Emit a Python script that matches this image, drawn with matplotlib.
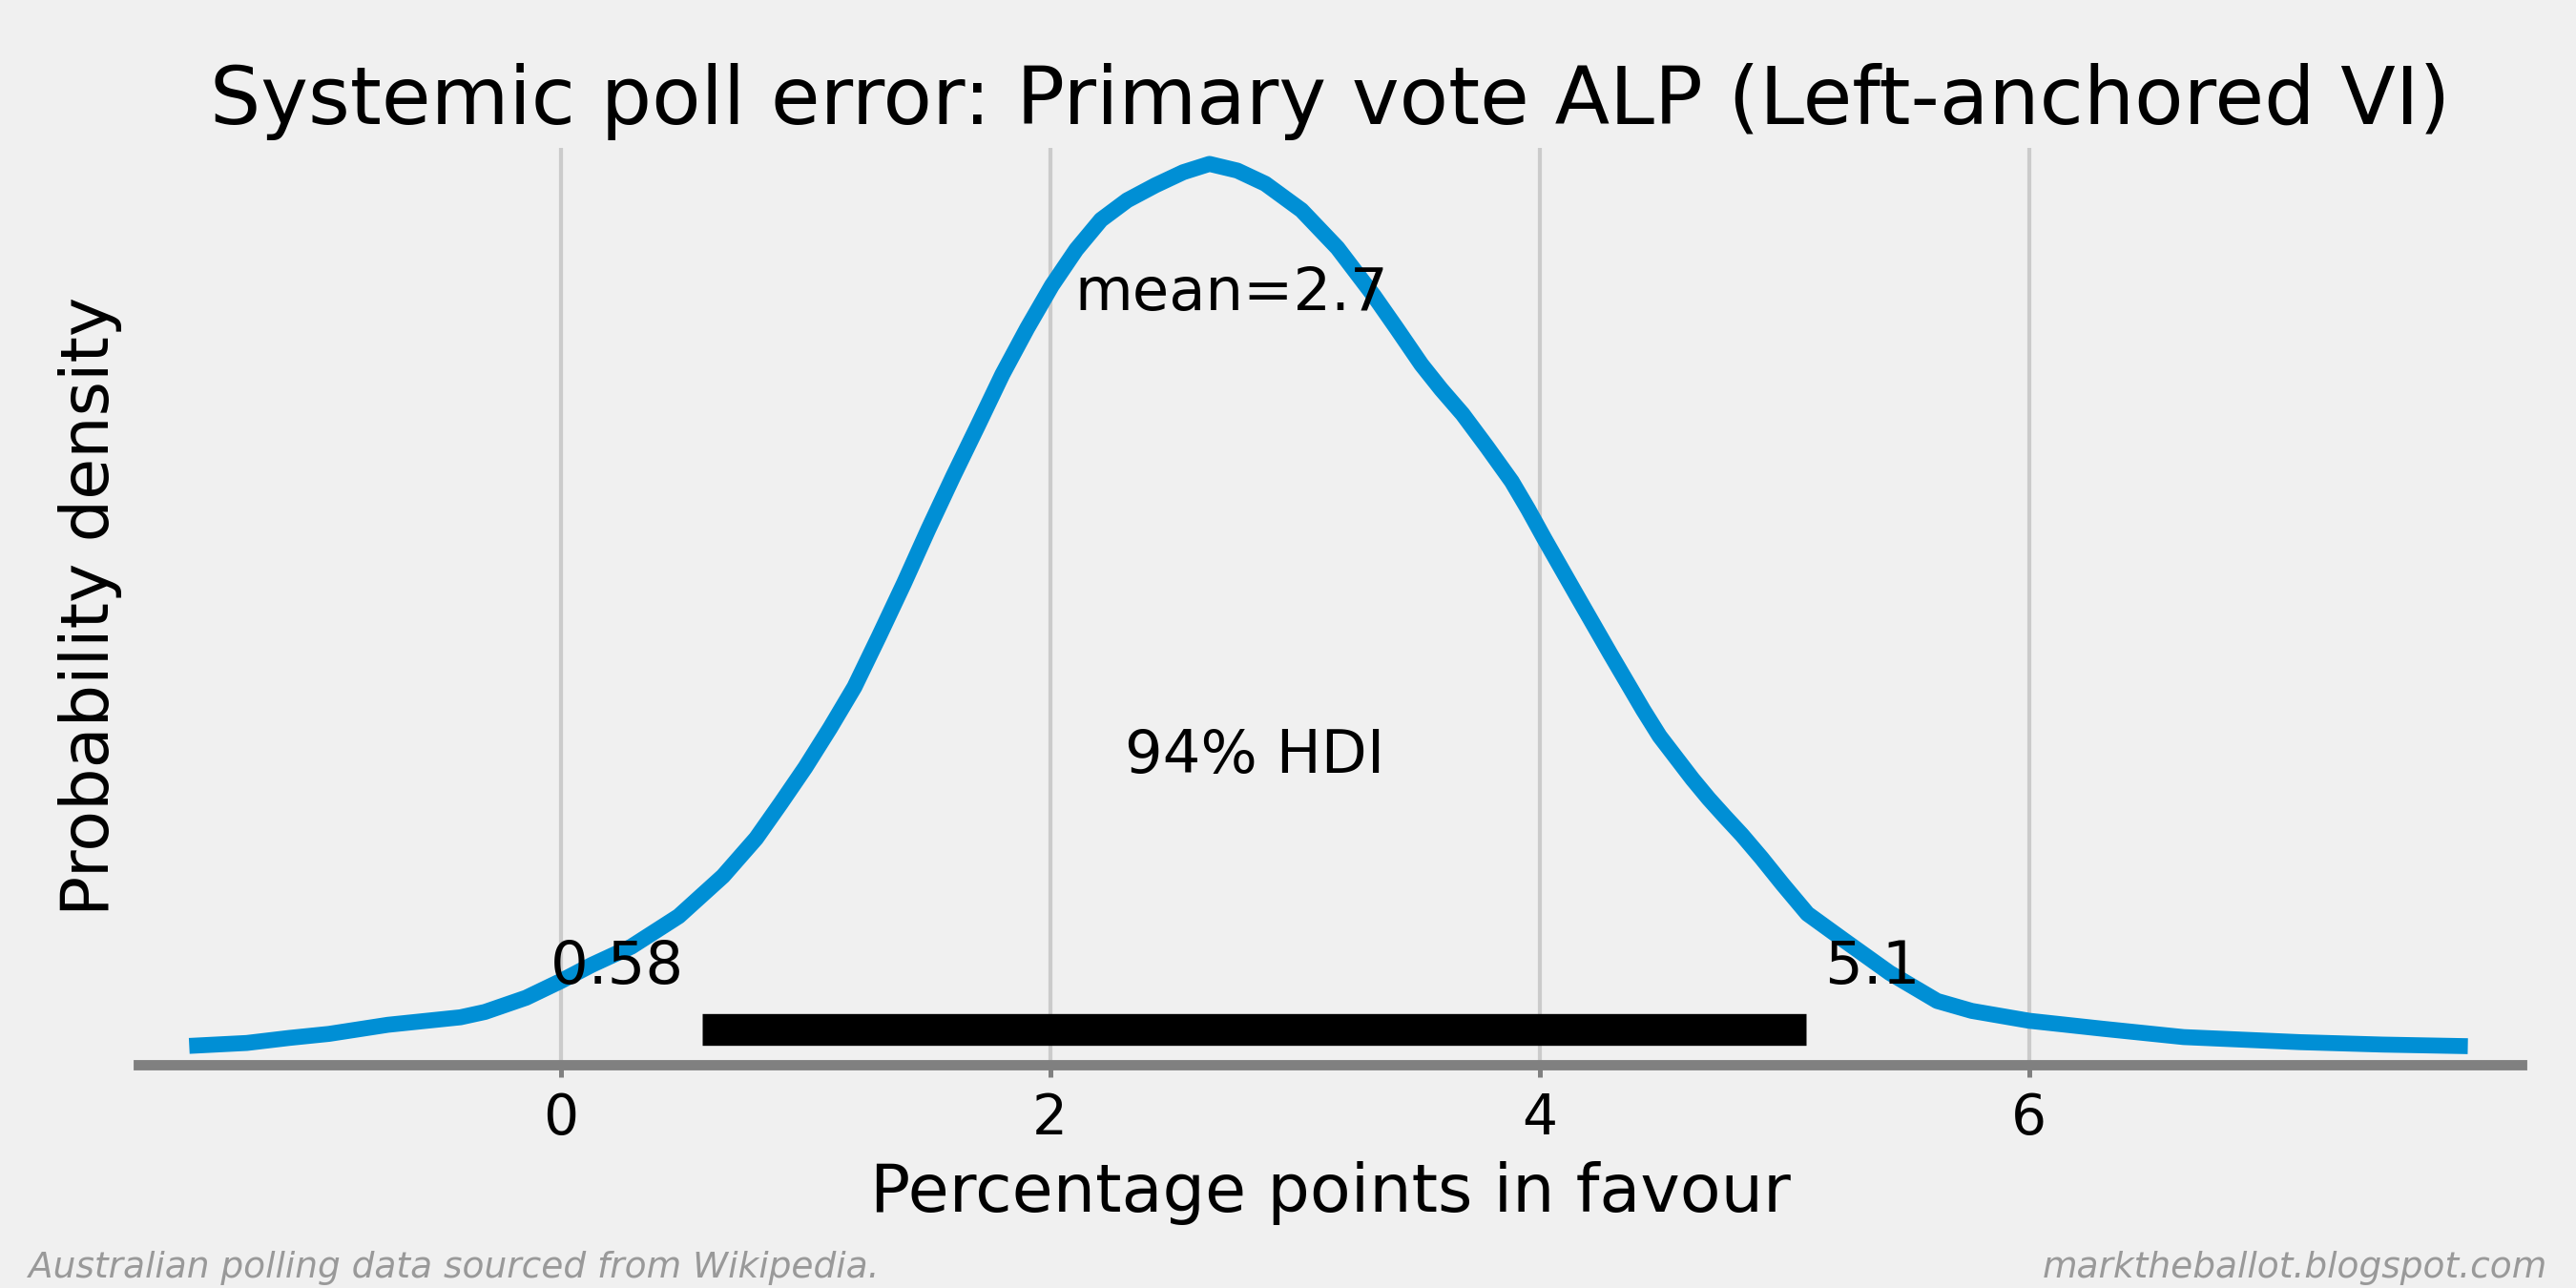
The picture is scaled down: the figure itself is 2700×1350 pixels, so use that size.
import matplotlib
matplotlib.use('Agg')
from matplotlib import pyplot as plt
import numpy as np

# posterior density of the systemic poll error
x_points = [-1.517, -1.282, -1.107, -0.946, -0.705, -0.409, -0.309, -0.141,
            0.0, 0.128, 0.289, 0.483, 0.664, 0.799, 0.899, 1.0, 1.101,
            1.201, 1.302, 1.403, 1.503, 1.604, 1.705, 1.805, 1.906, 2.007,
            2.107, 2.208, 2.315, 2.43, 2.544, 2.651, 2.765, 2.879, 3.027,
            3.174, 3.322, 3.416, 3.517, 3.597, 3.685, 3.785, 3.886, 3.953,
            4.02, 4.154, 4.289, 4.423, 4.49, 4.557, 4.624, 4.691, 4.758,
            4.826, 4.906, 4.993, 5.094, 5.242, 5.43, 5.624, 5.765, 6.0,
            6.302, 6.631, 7.107, 7.443, 7.792]
density = [0.0004, 0.0015, 0.0034, 0.0049, 0.0083, 0.0111, 0.0131, 0.0184,
           0.0246, 0.0307, 0.0375, 0.0489, 0.0639, 0.078, 0.091, 0.1045,
           0.1192, 0.1346, 0.1537, 0.1733, 0.1936, 0.2133, 0.2323, 0.2514,
           0.2686, 0.2846, 0.2981, 0.3092, 0.3165, 0.3221, 0.327, 0.3301,
           0.3276, 0.3227, 0.3128, 0.2987, 0.2809, 0.2686, 0.2551, 0.2459,
           0.2366, 0.2243, 0.2114, 0.201, 0.1899, 0.1684, 0.1469, 0.126,
           0.1162, 0.1082, 0.1002, 0.0928, 0.086, 0.0793, 0.0707, 0.0608,
           0.0498, 0.04, 0.0277, 0.0172, 0.0135, 0.0098, 0.0068, 0.0037,
           0.0018, 0.0009, 0.0003]
mean_value = 2.74
hdi_low, hdi_high = 0.58, 5.09
hdi_prob = 94
xticks = [0, 2, 4, 6]

plt.style.use('fivethirtyeight')

fig = plt.figure(figsize=(9, 4.5), dpi=300)
ax = fig.add_axes([0.0537, 0.173, 0.9253, 0.712])

ax.plot(x_points, density, color='#008fd5', lw=4, solid_capstyle='butt',
        solid_joinstyle='round')

ax.set_xlim(-1.725, 8.013)
top = 0.336
ax.set_ylim(-0.0068, top)

# HDI bar and labels (arviz-style)
ax.plot([hdi_low, hdi_high], [top * 0.02, top * 0.02], color='k', lw=8,
        solid_capstyle='butt')
ax.text(hdi_low, top * 0.07, '%.2g' % hdi_low + ' ' * 9, size=15, ha='center')
ax.text(hdi_high, top * 0.07, ' ' * 7 + '%.2g' % hdi_high, size=15,
        ha='center')
ax.text((hdi_low + hdi_high) / 2, top * 0.305, '%d%% HDI' % hdi_prob,
        size=15, ha='center')
ax.text(mean_value, top * 0.82, 'mean=%.2g' % mean_value, size=15,
        ha='center')

ax.set_yticks([])
ax.set_xticks(xticks)
ax.grid(True, axis='x', color='#cbcbcb', lw=1)
ax.grid(False, axis='y')
for side in ['left', 'right', 'top']:
    ax.spines[side].set_visible(False)
ax.spines['bottom'].set_visible(True)
ax.spines['bottom'].set_color('grey')
ax.spines['bottom'].set_linewidth(2.6)
ax.tick_params(axis='x', length=3, width=1.2, color='grey', labelsize=14,
               pad=3.5)

ax.set_title('Systemic poll error: Primary vote ALP (Left-anchored VI)',
             fontsize=20.2)
ax.set_xlabel('Percentage points in favour', fontsize=16.8)
ax.set_ylabel('Probability density', fontsize=16.8)

fig.text(0.011, 0.002, 'Australian polling data sourced from Wikipedia.',
         ha='left', va='bottom', fontsize=9, style='italic', color='#999999')
fig.text(0.989, 0.002, 'marktheballot.blogspot.com', ha='right',
         va='bottom', fontsize=9, style='italic', color='#999999')

fig.savefig('out.png', dpi=300, facecolor=fig.get_facecolor())
